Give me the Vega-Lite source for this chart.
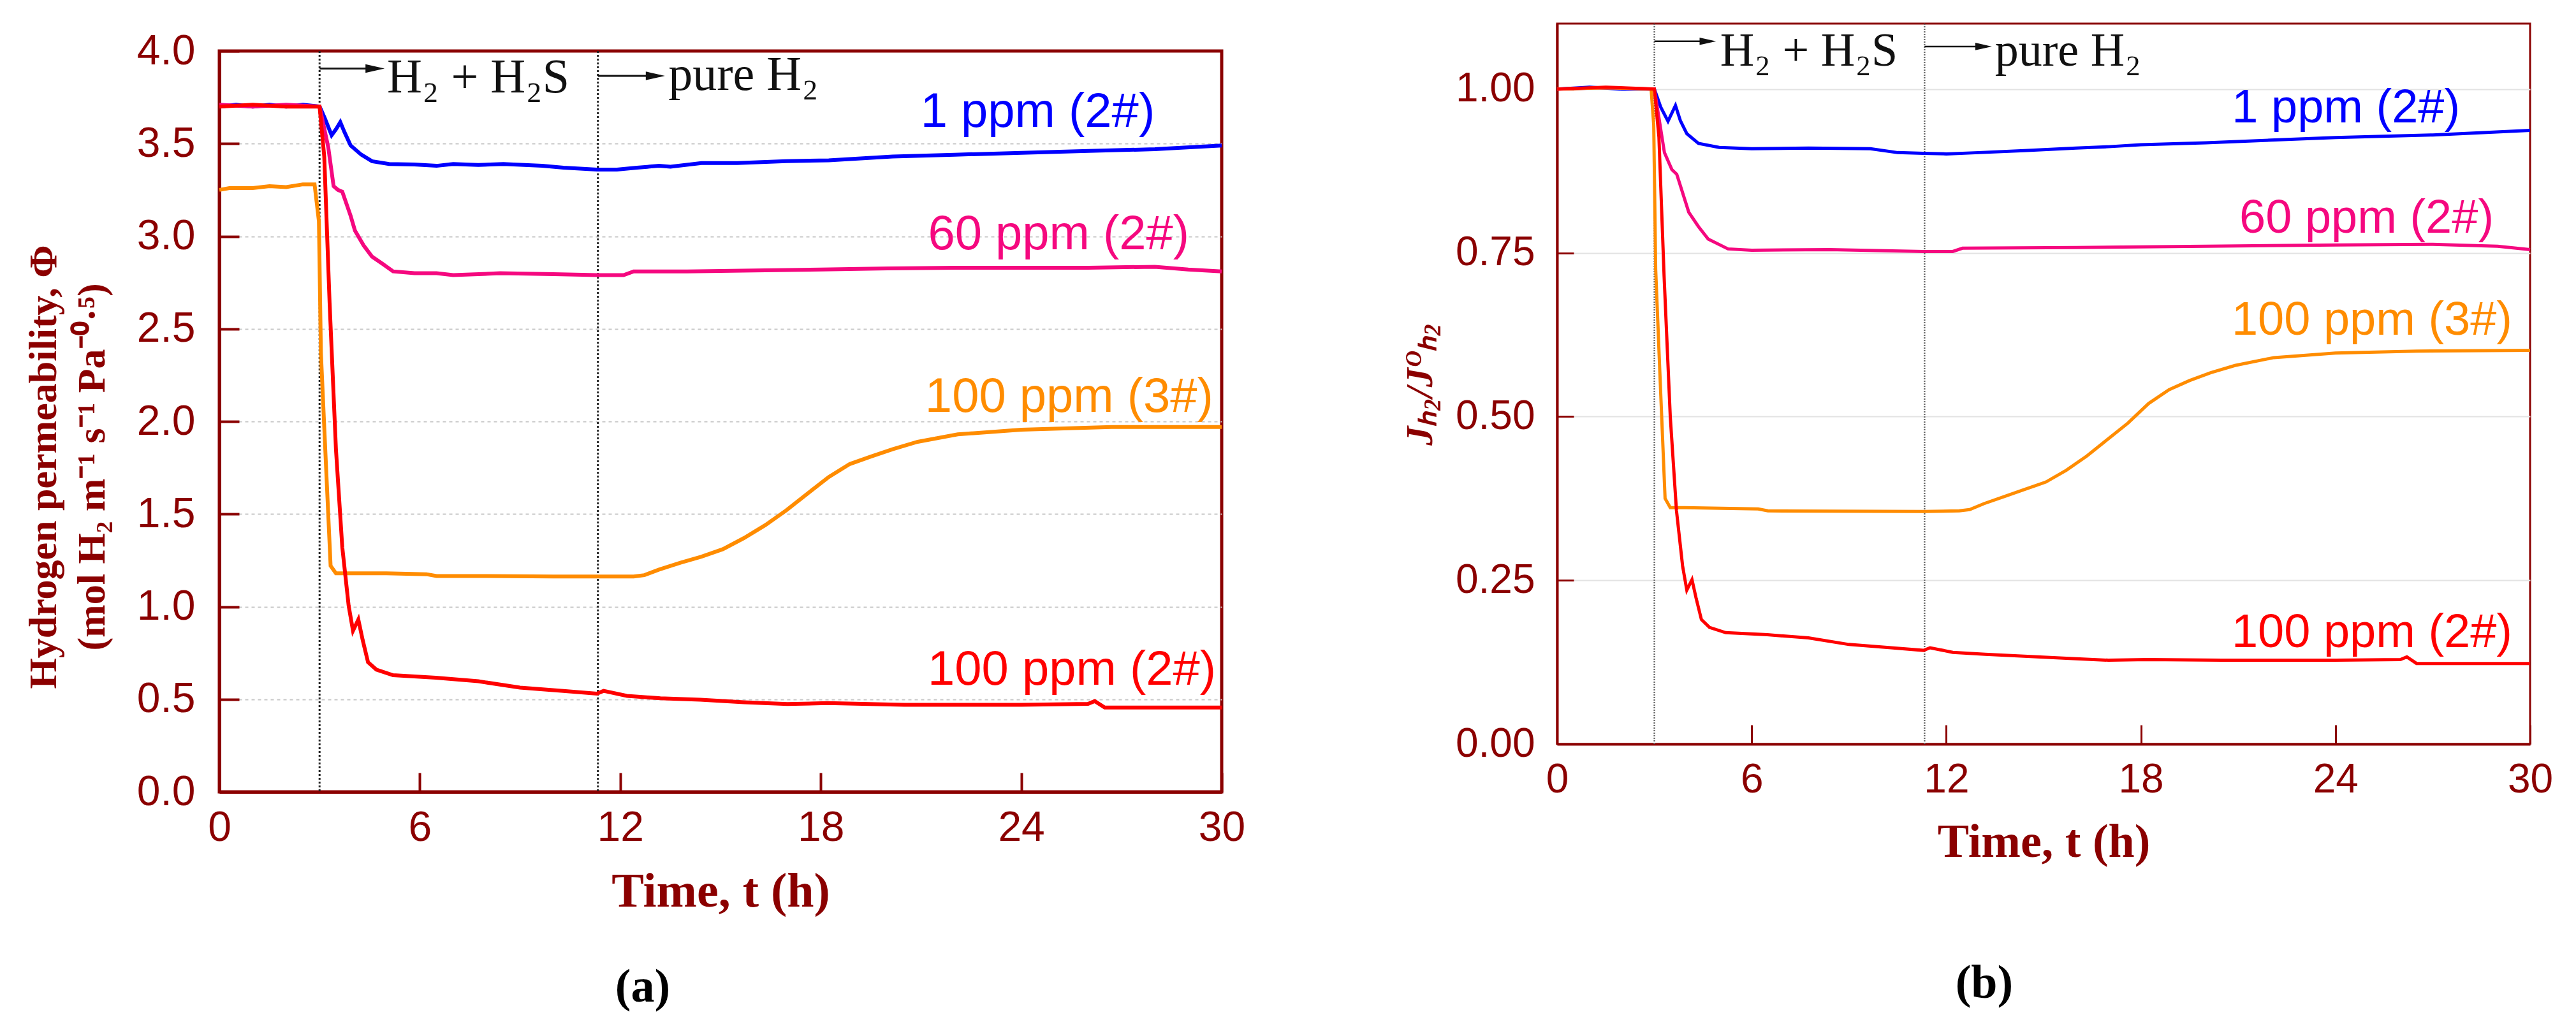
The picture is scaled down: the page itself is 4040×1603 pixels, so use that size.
{
  "$schema": "https://vega.github.io/schema/vega-lite/v6.json",
  "background": "white",
  "padding": {"left": 34, "top": 34, "right": 5, "bottom": 5},
  "spacing": 239,
  "config": {"font": "Liberation Sans"},
  "datasets": {
    "a": [
      {"s":"1 ppm (2#)","t":0,"v":3.70},{"s":"1 ppm (2#)","t":0.5,"v":3.71},{"s":"1 ppm (2#)","t":1,"v":3.70},{"s":"1 ppm (2#)","t":1.5,"v":3.71},{"s":"1 ppm (2#)","t":2,"v":3.70},{"s":"1 ppm (2#)","t":2.5,"v":3.71},{"s":"1 ppm (2#)","t":3.0,"v":3.70},{"s":"1 ppm (2#)","t":3.15,"v":3.64},{"s":"1 ppm (2#)","t":3.36,"v":3.545},{"s":"1 ppm (2#)","t":3.5,"v":3.58},{"s":"1 ppm (2#)","t":3.62,"v":3.616},{"s":"1 ppm (2#)","t":3.75,"v":3.56},{"s":"1 ppm (2#)","t":3.93,"v":3.49},{"s":"1 ppm (2#)","t":4.25,"v":3.44},{"s":"1 ppm (2#)","t":4.57,"v":3.405},{"s":"1 ppm (2#)","t":5.08,"v":3.39},{"s":"1 ppm (2#)","t":5.84,"v":3.387},{"s":"1 ppm (2#)","t":6.5,"v":3.38},{"s":"1 ppm (2#)","t":7.0,"v":3.39},{"s":"1 ppm (2#)","t":7.75,"v":3.385},{"s":"1 ppm (2#)","t":8.5,"v":3.39},{"s":"1 ppm (2#)","t":9.66,"v":3.38},{"s":"1 ppm (2#)","t":10.3,"v":3.37},{"s":"1 ppm (2#)","t":11.3,"v":3.36},{"s":"1 ppm (2#)","t":11.9,"v":3.36},{"s":"1 ppm (2#)","t":12.5,"v":3.37},{"s":"1 ppm (2#)","t":13.16,"v":3.38},{"s":"1 ppm (2#)","t":13.5,"v":3.375},{"s":"1 ppm (2#)","t":14.43,"v":3.395},{"s":"1 ppm (2#)","t":15.5,"v":3.395},{"s":"1 ppm (2#)","t":16.97,"v":3.405},{"s":"1 ppm (2#)","t":18.24,"v":3.41},{"s":"1 ppm (2#)","t":20.15,"v":3.43},{"s":"1 ppm (2#)","t":22,"v":3.44},{"s":"1 ppm (2#)","t":24,"v":3.45},{"s":"1 ppm (2#)","t":26,"v":3.46},{"s":"1 ppm (2#)","t":28,"v":3.47},{"s":"1 ppm (2#)","t":30,"v":3.49},
      {"s":"60 ppm (2#)","t":0,"v":3.71},{"s":"60 ppm (2#)","t":1,"v":3.70},{"s":"60 ppm (2#)","t":2,"v":3.71},{"s":"60 ppm (2#)","t":3.0,"v":3.70},{"s":"60 ppm (2#)","t":3.26,"v":3.48},{"s":"60 ppm (2#)","t":3.42,"v":3.27},{"s":"60 ppm (2#)","t":3.55,"v":3.25},{"s":"60 ppm (2#)","t":3.68,"v":3.24},{"s":"60 ppm (2#)","t":3.93,"v":3.11},{"s":"60 ppm (2#)","t":4.06,"v":3.03},{"s":"60 ppm (2#)","t":4.32,"v":2.95},{"s":"60 ppm (2#)","t":4.57,"v":2.89},{"s":"60 ppm (2#)","t":4.89,"v":2.85},{"s":"60 ppm (2#)","t":5.2,"v":2.81},{"s":"60 ppm (2#)","t":5.84,"v":2.80},{"s":"60 ppm (2#)","t":6.5,"v":2.80},{"s":"60 ppm (2#)","t":7.0,"v":2.79},{"s":"60 ppm (2#)","t":8.4,"v":2.80},{"s":"60 ppm (2#)","t":10,"v":2.795},{"s":"60 ppm (2#)","t":11.3,"v":2.79},{"s":"60 ppm (2#)","t":12.1,"v":2.79},{"s":"60 ppm (2#)","t":12.4,"v":2.81},{"s":"60 ppm (2#)","t":14,"v":2.81},{"s":"60 ppm (2#)","t":16,"v":2.815},{"s":"60 ppm (2#)","t":18,"v":2.82},{"s":"60 ppm (2#)","t":20,"v":2.826},{"s":"60 ppm (2#)","t":22,"v":2.83},{"s":"60 ppm (2#)","t":24,"v":2.83},{"s":"60 ppm (2#)","t":26,"v":2.83},{"s":"60 ppm (2#)","t":28,"v":2.835},{"s":"60 ppm (2#)","t":29,"v":2.82},{"s":"60 ppm (2#)","t":30,"v":2.81},
      {"s":"100 ppm (3#)","t":0,"v":3.25},{"s":"100 ppm (3#)","t":0.3,"v":3.26},{"s":"100 ppm (3#)","t":1,"v":3.26},{"s":"100 ppm (3#)","t":1.5,"v":3.27},{"s":"100 ppm (3#)","t":2,"v":3.265},{"s":"100 ppm (3#)","t":2.5,"v":3.28},{"s":"100 ppm (3#)","t":2.85,"v":3.28},{"s":"100 ppm (3#)","t":2.98,"v":3.08},{"s":"100 ppm (3#)","t":3.04,"v":2.37},{"s":"100 ppm (3#)","t":3.17,"v":1.85},{"s":"100 ppm (3#)","t":3.33,"v":1.22},{"s":"100 ppm (3#)","t":3.49,"v":1.18},{"s":"100 ppm (3#)","t":3.93,"v":1.18},{"s":"100 ppm (3#)","t":5,"v":1.18},{"s":"100 ppm (3#)","t":6.2,"v":1.175},{"s":"100 ppm (3#)","t":6.5,"v":1.165},{"s":"100 ppm (3#)","t":8,"v":1.165},{"s":"100 ppm (3#)","t":10,"v":1.163},{"s":"100 ppm (3#)","t":11.3,"v":1.163},{"s":"100 ppm (3#)","t":12.4,"v":1.163},{"s":"100 ppm (3#)","t":12.72,"v":1.17},{"s":"100 ppm (3#)","t":13.16,"v":1.20},{"s":"100 ppm (3#)","t":13.8,"v":1.237},{"s":"100 ppm (3#)","t":14.43,"v":1.27},{"s":"100 ppm (3#)","t":15.07,"v":1.31},{"s":"100 ppm (3#)","t":15.7,"v":1.37},{"s":"100 ppm (3#)","t":16.34,"v":1.44},{"s":"100 ppm (3#)","t":16.97,"v":1.52},{"s":"100 ppm (3#)","t":17.6,"v":1.61},{"s":"100 ppm (3#)","t":18.24,"v":1.70},{"s":"100 ppm (3#)","t":18.87,"v":1.77},{"s":"100 ppm (3#)","t":19.5,"v":1.81},{"s":"100 ppm (3#)","t":20.15,"v":1.85},{"s":"100 ppm (3#)","t":20.9,"v":1.89},{"s":"100 ppm (3#)","t":22.1,"v":1.93},{"s":"100 ppm (3#)","t":24,"v":1.955},{"s":"100 ppm (3#)","t":26.7,"v":1.97},{"s":"100 ppm (3#)","t":30,"v":1.97},
      {"s":"100 ppm (2#)","t":0,"v":3.70},{"s":"100 ppm (2#)","t":1,"v":3.71},{"s":"100 ppm (2#)","t":2,"v":3.70},{"s":"100 ppm (2#)","t":3.0,"v":3.70},{"s":"100 ppm (2#)","t":3.14,"v":3.43},{"s":"100 ppm (2#)","t":3.3,"v":2.64},{"s":"100 ppm (2#)","t":3.49,"v":1.85},{"s":"100 ppm (2#)","t":3.68,"v":1.32},{"s":"100 ppm (2#)","t":3.87,"v":1.005},{"s":"100 ppm (2#)","t":4.0,"v":0.87},{"s":"100 ppm (2#)","t":4.16,"v":0.93},{"s":"100 ppm (2#)","t":4.29,"v":0.82},{"s":"100 ppm (2#)","t":4.45,"v":0.70},{"s":"100 ppm (2#)","t":4.7,"v":0.66},{"s":"100 ppm (2#)","t":5.2,"v":0.63},{"s":"100 ppm (2#)","t":6.48,"v":0.616},{"s":"100 ppm (2#)","t":7.75,"v":0.597},{"s":"100 ppm (2#)","t":9.0,"v":0.563},{"s":"100 ppm (2#)","t":10.3,"v":0.545},{"s":"100 ppm (2#)","t":11.3,"v":0.53},{"s":"100 ppm (2#)","t":11.5,"v":0.545},{"s":"100 ppm (2#)","t":12.2,"v":0.518},{"s":"100 ppm (2#)","t":13.2,"v":0.505},{"s":"100 ppm (2#)","t":14.4,"v":0.497},{"s":"100 ppm (2#)","t":15.7,"v":0.484},{"s":"100 ppm (2#)","t":17,"v":0.474},{"s":"100 ppm (2#)","t":18.2,"v":0.479},{"s":"100 ppm (2#)","t":20.5,"v":0.47},{"s":"100 ppm (2#)","t":24,"v":0.47},{"s":"100 ppm (2#)","t":26.0,"v":0.475},{"s":"100 ppm (2#)","t":26.2,"v":0.49},{"s":"100 ppm (2#)","t":26.5,"v":0.455},{"s":"100 ppm (2#)","t":30,"v":0.455}
    ],
    "b": [
      {"s":"1 ppm (2#)","t":0,"v":1.0},{"s":"1 ppm (2#)","t":1,"v":1.003},{"s":"1 ppm (2#)","t":2,"v":1.0},{"s":"1 ppm (2#)","t":3.0,"v":1.0},{"s":"1 ppm (2#)","t":3.2,"v":0.972},{"s":"1 ppm (2#)","t":3.42,"v":0.951},{"s":"1 ppm (2#)","t":3.65,"v":0.975},{"s":"1 ppm (2#)","t":3.8,"v":0.952},{"s":"1 ppm (2#)","t":4.0,"v":0.932},{"s":"1 ppm (2#)","t":4.36,"v":0.917},{"s":"1 ppm (2#)","t":5.0,"v":0.911},{"s":"1 ppm (2#)","t":6,"v":0.909},{"s":"1 ppm (2#)","t":7.75,"v":0.91},{"s":"1 ppm (2#)","t":9.66,"v":0.909},{"s":"1 ppm (2#)","t":10.5,"v":0.903},{"s":"1 ppm (2#)","t":11.3,"v":0.902},{"s":"1 ppm (2#)","t":12,"v":0.901},{"s":"1 ppm (2#)","t":13,"v":0.903},{"s":"1 ppm (2#)","t":14.4,"v":0.906},{"s":"1 ppm (2#)","t":16,"v":0.91},{"s":"1 ppm (2#)","t":17,"v":0.912},{"s":"1 ppm (2#)","t":18,"v":0.915},{"s":"1 ppm (2#)","t":20,"v":0.918},{"s":"1 ppm (2#)","t":22,"v":0.922},{"s":"1 ppm (2#)","t":24,"v":0.926},{"s":"1 ppm (2#)","t":27,"v":0.93},{"s":"1 ppm (2#)","t":30,"v":0.937},
      {"s":"60 ppm (2#)","t":0,"v":1.0},{"s":"60 ppm (2#)","t":1.5,"v":1.002},{"s":"60 ppm (2#)","t":3.0,"v":1.0},{"s":"60 ppm (2#)","t":3.31,"v":0.903},{"s":"60 ppm (2#)","t":3.54,"v":0.877},{"s":"60 ppm (2#)","t":3.69,"v":0.87},{"s":"60 ppm (2#)","t":4.06,"v":0.812},{"s":"60 ppm (2#)","t":4.36,"v":0.79},{"s":"60 ppm (2#)","t":4.66,"v":0.771},{"s":"60 ppm (2#)","t":5.27,"v":0.756},{"s":"60 ppm (2#)","t":6,"v":0.754},{"s":"60 ppm (2#)","t":8.4,"v":0.755},{"s":"60 ppm (2#)","t":11.3,"v":0.752},{"s":"60 ppm (2#)","t":12.2,"v":0.752},{"s":"60 ppm (2#)","t":12.5,"v":0.757},{"s":"60 ppm (2#)","t":16,"v":0.758},{"s":"60 ppm (2#)","t":20,"v":0.76},{"s":"60 ppm (2#)","t":24,"v":0.762},{"s":"60 ppm (2#)","t":27,"v":0.763},{"s":"60 ppm (2#)","t":29,"v":0.76},{"s":"60 ppm (2#)","t":30,"v":0.755},
      {"s":"100 ppm (3#)","t":0,"v":1.0},{"s":"100 ppm (3#)","t":1.5,"v":1.002},{"s":"100 ppm (3#)","t":2.9,"v":1.0},{"s":"100 ppm (3#)","t":2.98,"v":0.945},{"s":"100 ppm (3#)","t":3.04,"v":0.725},{"s":"100 ppm (3#)","t":3.17,"v":0.566},{"s":"100 ppm (3#)","t":3.33,"v":0.375},{"s":"100 ppm (3#)","t":3.49,"v":0.361},{"s":"100 ppm (3#)","t":3.93,"v":0.361},{"s":"100 ppm (3#)","t":6.2,"v":0.359},{"s":"100 ppm (3#)","t":6.5,"v":0.356},{"s":"100 ppm (3#)","t":11.3,"v":0.355},{"s":"100 ppm (3#)","t":12.4,"v":0.356},{"s":"100 ppm (3#)","t":12.72,"v":0.358},{"s":"100 ppm (3#)","t":13.16,"v":0.367},{"s":"100 ppm (3#)","t":13.8,"v":0.378},{"s":"100 ppm (3#)","t":14.43,"v":0.389},{"s":"100 ppm (3#)","t":15.07,"v":0.40},{"s":"100 ppm (3#)","t":15.7,"v":0.418},{"s":"100 ppm (3#)","t":16.34,"v":0.44},{"s":"100 ppm (3#)","t":16.97,"v":0.465},{"s":"100 ppm (3#)","t":17.6,"v":0.49},{"s":"100 ppm (3#)","t":18.24,"v":0.52},{"s":"100 ppm (3#)","t":18.87,"v":0.541},{"s":"100 ppm (3#)","t":19.5,"v":0.555},{"s":"100 ppm (3#)","t":20.15,"v":0.567},{"s":"100 ppm (3#)","t":20.9,"v":0.578},{"s":"100 ppm (3#)","t":22.1,"v":0.59},{"s":"100 ppm (3#)","t":24,"v":0.597},{"s":"100 ppm (3#)","t":26.5,"v":0.6},{"s":"100 ppm (3#)","t":30,"v":0.601},
      {"s":"100 ppm (2#)","t":0,"v":1.0},{"s":"100 ppm (2#)","t":1.5,"v":1.003},{"s":"100 ppm (2#)","t":3.0,"v":1.0},{"s":"100 ppm (2#)","t":3.14,"v":0.927},{"s":"100 ppm (2#)","t":3.3,"v":0.714},{"s":"100 ppm (2#)","t":3.49,"v":0.5},{"s":"100 ppm (2#)","t":3.68,"v":0.357},{"s":"100 ppm (2#)","t":3.87,"v":0.272},{"s":"100 ppm (2#)","t":4.0,"v":0.235},{"s":"100 ppm (2#)","t":4.16,"v":0.251},{"s":"100 ppm (2#)","t":4.29,"v":0.222},{"s":"100 ppm (2#)","t":4.45,"v":0.19},{"s":"100 ppm (2#)","t":4.7,"v":0.178},{"s":"100 ppm (2#)","t":5.2,"v":0.17},{"s":"100 ppm (2#)","t":6.48,"v":0.167},{"s":"100 ppm (2#)","t":7.75,"v":0.162},{"s":"100 ppm (2#)","t":9.0,"v":0.152},{"s":"100 ppm (2#)","t":10.3,"v":0.147},{"s":"100 ppm (2#)","t":11.3,"v":0.143},{"s":"100 ppm (2#)","t":11.5,"v":0.147},{"s":"100 ppm (2#)","t":12.2,"v":0.14},{"s":"100 ppm (2#)","t":13.2,"v":0.137},{"s":"100 ppm (2#)","t":14.4,"v":0.134},{"s":"100 ppm (2#)","t":15.7,"v":0.131},{"s":"100 ppm (2#)","t":17,"v":0.128},{"s":"100 ppm (2#)","t":18.2,"v":0.129},{"s":"100 ppm (2#)","t":20.5,"v":0.128},{"s":"100 ppm (2#)","t":24,"v":0.128},{"s":"100 ppm (2#)","t":26.0,"v":0.129},{"s":"100 ppm (2#)","t":26.2,"v":0.133},{"s":"100 ppm (2#)","t":26.5,"v":0.123},{"s":"100 ppm (2#)","t":30,"v":0.123}
    ],
    "aLabels": [
      {"s":"1 ppm (2#)","t":28.0,"v":3.59},{"s":"60 ppm (2#)","t":29.03,"v":2.93},{"s":"100 ppm (3#)","t":29.75,"v":2.05},{"s":"100 ppm (2#)","t":29.83,"v":0.578}
    ],
    "bLabels": [
      {"s":"1 ppm (2#)","t":27.84,"v":0.949},{"s":"60 ppm (2#)","t":28.88,"v":0.781},{"s":"100 ppm (3#)","t":29.45,"v":0.625},{"s":"100 ppm (2#)","t":29.45,"v":0.148}
    ],
    "aArrows": [{"t":3.0,"t2":4.8,"v":3.905},{"t":11.33,"t2":13.2,"v":3.866}],
    "aHeads": [{"t":4.66,"v":3.905},{"t":13.05,"v":3.866}],
    "aNotes": [{"txt":"H₂ + H₂S","t":5.02,"v":3.776},{"txt":"pure H₂","t":13.44,"v":3.79}],
    "bArrows": [{"t":3.0,"t2":4.75,"v":1.073},{"t":11.33,"t2":13.25,"v":1.065}],
    "bHeads": [{"t":4.65,"v":1.073},{"t":13.15,"v":1.065}],
    "bNotes": [{"txt":"H₂ + H₂S","t":5.03,"v":1.036},{"txt":"pure H₂","t":13.5,"v":1.036}],
    "switches": [{"t":3.0},{"t":11.33}]
  },
  "hconcat": [
    {
      "spacing": 0,
      "vconcat": [
        {
          "width": 1572,
          "height": 7,
          "view": {"stroke": null, "fill": null},
          "data": {"values": []},
          "mark": {"type": "point", "opacity": 0},
          "encoding": {}
        },
        {
          "width": 1572,
          "height": 1162,
          "view": {"stroke": "#8B0000", "strokeWidth": 5},
          "layer": [
            {
              "data": {"name": "switches"},
              "mark": {"type": "rule", "color": "#222222", "strokeWidth": 3, "strokeDash": [3, 3]},
              "encoding": {"x": {"field": "t", "type": "quantitative", "scale": {"domain": [0, 30], "nice": false, "zero": false},
                  "axis": {"title": "Time, t (h)", "values": [0, 6, 12, 18, 24, 30], "grid": false, "labelFlush": false,
                    "tickSize": -30, "tickWidth": 4, "tickColor": "#8B0000", "domainColor": "#8B0000", "domainWidth": 5,
                    "labelFont": "Liberation Sans", "labelFontSize": 66, "labelColor": "#8B0000", "labelPadding": 54,
                    "titleFont": "Liberation Serif", "titleFontWeight": "bold", "titleFontSize": 76, "titleColor": "#8B0000", "titlePadding": 30}}}
            },
            {
              "data": {"name": "a"},
              "mark": {"type": "line", "strokeWidth": 6},
              "encoding": {
                "x": {"field": "t", "type": "quantitative"},
                "y": {"field": "v", "type": "quantitative", "scale": {"domain": [0, 4], "nice": false},
                  "axis": {"title": ["Hydrogen permeability, Φ", "(mol H₂ m⁻¹ s⁻¹ Pa⁻⁰·⁵)"], "values": [0, 0.5, 1, 1.5, 2, 2.5, 3, 3.5, 4], "format": ".1f",
                    "grid": true, "gridColor": "#C8C8C8", "gridDash": [5, 5], "gridWidth": 2,
                    "gridOpacity": {"condition": {"test": "datum.value === 0 || datum.value === 4", "value": 0}, "value": 1},
                    "tickSize": -31, "tickWidth": 4, "tickColor": "#8B0000", "domainColor": "#8B0000", "domainWidth": 5,
                    "labelFont": "Liberation Sans", "labelFontSize": 66, "labelColor": "#8B0000", "labelPadding": 69,
                    "titleFont": "Liberation Serif", "titleFontWeight": "bold", "titleFontSize": 62, "titleLineHeight": 76, "titleColor": "#8B0000", "titlePadding": 38, "titleY": 652}},
                "color": {"field": "s", "type": "nominal", "legend": null,
                  "scale": {"domain": ["1 ppm (2#)", "60 ppm (2#)", "100 ppm (3#)", "100 ppm (2#)"], "range": ["#0000FF", "#F5087F", "#FF8C00", "#FF0000"]}}
              }
            },
            {
              "data": {"name": "aArrows"},
              "mark": {"type": "rule", "color": "#111111", "strokeWidth": 3},
              "encoding": {"x": {"field": "t", "type": "quantitative"}, "x2": {"field": "t2"}, "y": {"field": "v", "type": "quantitative"}}
            },
            {
              "data": {"name": "aHeads"},
              "mark": {"type": "point", "shape": "M-1,-0.45L1,0L-1,0.45Z", "filled": true, "color": "#111111", "opacity": 1, "size": 900},
              "encoding": {"x": {"field": "t", "type": "quantitative"}, "y": {"field": "v", "type": "quantitative"}}
            },
            {
              "data": {"name": "aNotes"},
              "mark": {"type": "text", "font": "Liberation Serif", "fontSize": 76, "align": "left", "baseline": "alphabetic", "color": "#111111"},
              "encoding": {"x": {"field": "t", "type": "quantitative"}, "y": {"field": "v", "type": "quantitative"}, "text": {"field": "txt"}}
            },
            {
              "data": {"name": "aLabels"},
              "mark": {"type": "text", "font": "Liberation Sans", "fontSize": 76, "align": "right", "baseline": "alphabetic"},
              "encoding": {"x": {"field": "t", "type": "quantitative"}, "y": {"field": "v", "type": "quantitative"}, "text": {"field": "s"},
                "color": {"field": "s", "type": "nominal", "legend": null}}
            },
            {
              "data": {"values": [{"txt": "(a)", "t": 12.67, "v": -1.057}]},
              "mark": {"type": "text", "font": "Liberation Serif", "fontSize": 74, "fontWeight": "bold", "align": "center", "baseline": "middle", "color": "#000000"},
              "encoding": {"x": {"field": "t", "type": "quantitative"}, "y": {"field": "v", "type": "quantitative"}, "text": {"field": "txt"}}
            }
          ]
        }
      ]
    },
    {
      "width": 1526,
      "height": 1130,
      "view": {"stroke": "#8B0000", "strokeWidth": 3},
      "layer": [
        {
          "data": {"name": "switches"},
          "mark": {"type": "rule", "color": "#6A6A6A", "strokeWidth": 2.5, "strokeDash": [2, 2]},
          "encoding": {"x": {"field": "t", "type": "quantitative", "scale": {"domain": [0, 30], "nice": false, "zero": false},
              "axis": {"title": "Time, t (h)", "values": [0, 6, 12, 18, 24, 30], "grid": false, "labelFlush": false,
                "tickSize": -30, "tickWidth": 3, "tickColor": "#8B0000", "domainColor": "#8B0000", "domainWidth": 4,
                "labelFont": "Liberation Sans", "labelFontSize": 64, "labelColor": "#8B0000", "labelPadding": 54,
                "titleFont": "Liberation Serif", "titleFontWeight": "bold", "titleFontSize": 74, "titleColor": "#8B0000", "titlePadding": 30}}}
        },
        {
          "data": {"name": "b"},
          "mark": {"type": "line", "strokeWidth": 5},
          "encoding": {
            "x": {"field": "t", "type": "quantitative"},
            "y": {"field": "v", "type": "quantitative", "scale": {"domain": [0, 1.1], "nice": false},
              "axis": {"title": "Jₕ₂/Jᴼₕ₂", "values": [0, 0.25, 0.5, 0.75, 1.0], "format": ".2f",
                "grid": true, "gridColor": "#E3E3E3", "gridWidth": 2,
                "tickSize": -26, "tickWidth": 3, "tickColor": "#8B0000", "domainColor": "#8B0000", "domainWidth": 4,
                "labelFont": "Liberation Sans", "labelFontSize": 64, "labelColor": "#8B0000", "labelPadding": 61,
                "titleFont": "Liberation Serif", "titleFontWeight": "bold", "titleFontStyle": "italic", "titleFontSize": 60, "titleColor": "#8B0000", "titlePadding": 24}},
            "color": {"field": "s", "type": "nominal", "legend": null,
              "scale": {"domain": ["1 ppm (2#)", "60 ppm (2#)", "100 ppm (3#)", "100 ppm (2#)"], "range": ["#0000FF", "#F5087F", "#F7941D", "#FF0000"]}}
          }
        },
        {
          "data": {"name": "bArrows"},
          "mark": {"type": "rule", "color": "#111111", "strokeWidth": 2.5},
          "encoding": {"x": {"field": "t", "type": "quantitative"}, "x2": {"field": "t2"}, "y": {"field": "v", "type": "quantitative"}}
        },
        {
          "data": {"name": "bHeads"},
          "mark": {"type": "point", "shape": "M-1,-0.45L1,0L-1,0.45Z", "filled": true, "color": "#111111", "opacity": 1, "size": 676},
          "encoding": {"x": {"field": "t", "type": "quantitative"}, "y": {"field": "v", "type": "quantitative"}}
        },
        {
          "data": {"name": "bNotes"},
          "mark": {"type": "text", "font": "Liberation Serif", "fontSize": 74, "align": "left", "baseline": "alphabetic", "color": "#111111"},
          "encoding": {"x": {"field": "t", "type": "quantitative"}, "y": {"field": "v", "type": "quantitative"}, "text": {"field": "txt"}}
        },
        {
          "data": {"name": "bLabels"},
          "mark": {"type": "text", "font": "Liberation Sans", "fontSize": 74, "align": "right", "baseline": "alphabetic"},
          "encoding": {"x": {"field": "t", "type": "quantitative"}, "y": {"field": "v", "type": "quantitative"}, "text": {"field": "s"},
            "color": {"field": "s", "type": "nominal", "legend": null}}
        },
        {
          "data": {"values": [{"txt": "(b)", "t": 13.17, "v": -0.366}]},
          "mark": {"type": "text", "font": "Liberation Serif", "fontSize": 74, "fontWeight": "bold", "align": "center", "baseline": "middle", "color": "#000000"},
          "encoding": {"x": {"field": "t", "type": "quantitative"}, "y": {"field": "v", "type": "quantitative"}, "text": {"field": "txt"}}
        }
      ]
    }
  ]
}
